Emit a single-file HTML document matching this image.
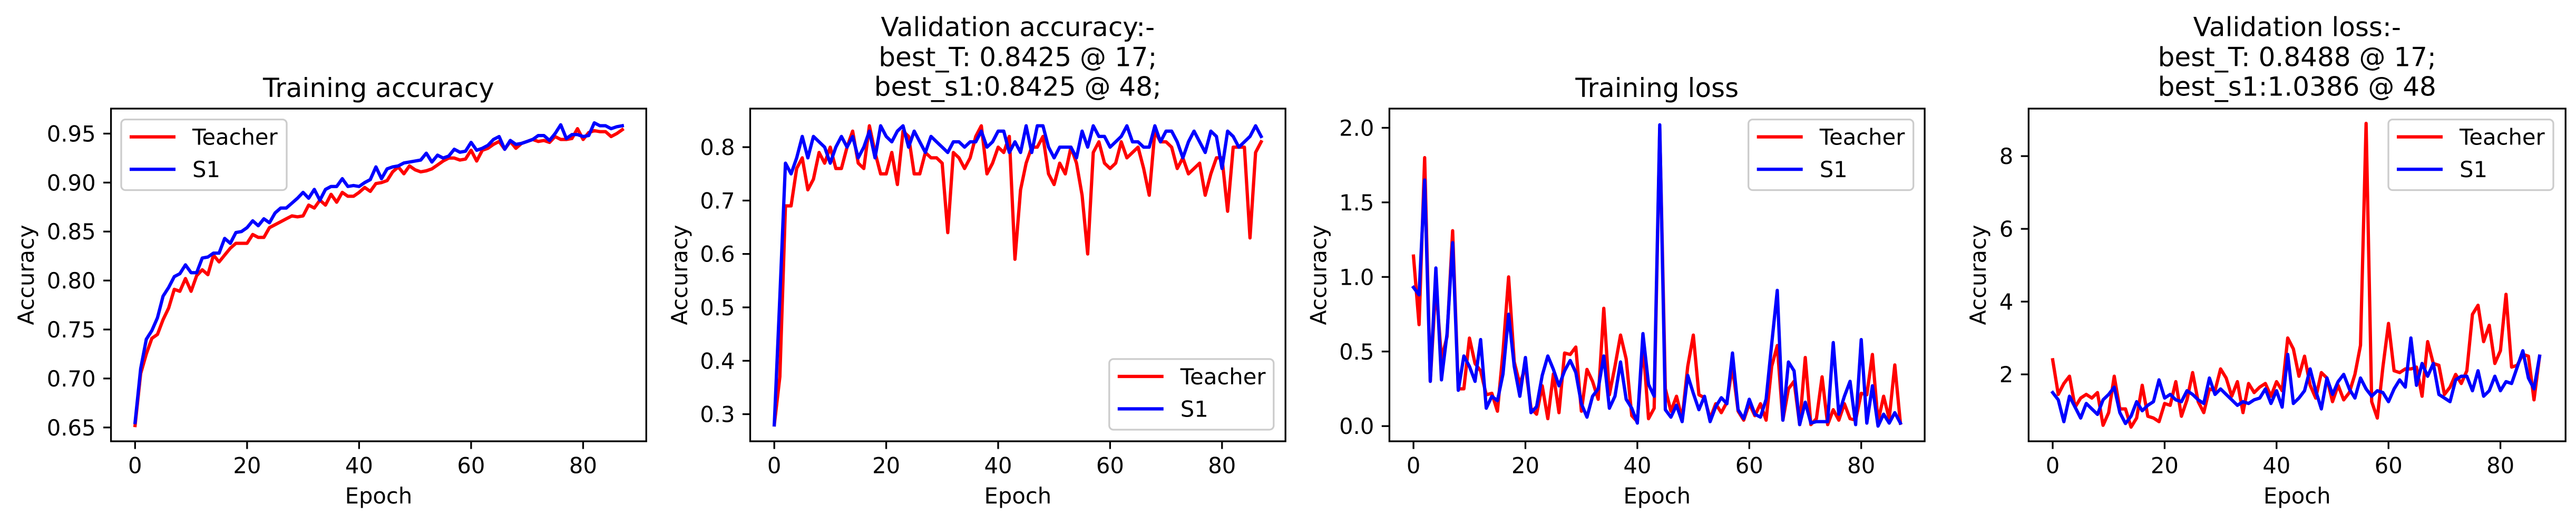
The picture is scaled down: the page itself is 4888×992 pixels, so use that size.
<!DOCTYPE html>
<html><head><meta charset="utf-8">
<style>
html,body{margin:0;padding:0;background:#fff;}
svg{display:block;font-family:"DejaVu Sans","Liberation Sans",sans-serif;}
</style></head>
<body>
<svg id="fig" width="4888" height="992" viewBox="0 0 4888 992" xmlns="http://www.w3.org/2000/svg"></svg>
<script>
const epochs = Array.from({length: 88}, (_, i) => i);
const xTicks = [0, 20, 40, 60, 80];

const trainAccTeacher = [0.652,0.705,0.725,0.741,0.745,0.760,0.772,0.791,0.789,0.802,0.789,0.805,0.811,0.806,0.826,0.819,0.826,0.833,0.838,0.838,0.838,0.847,0.844,0.844,0.854,0.857,0.860,0.863,0.866,0.865,0.866,0.877,0.874,0.882,0.877,0.888,0.880,0.890,0.886,0.886,0.890,0.895,0.891,0.899,0.900,0.902,0.911,0.916,0.909,0.917,0.913,0.911,0.912,0.914,0.918,0.922,0.925,0.925,0.923,0.924,0.933,0.922,0.933,0.935,0.939,0.942,0.934,0.942,0.935,0.940,0.942,0.944,0.942,0.943,0.941,0.947,0.944,0.944,0.945,0.955,0.944,0.951,0.953,0.952,0.952,0.947,0.950,0.954];
const trainAccS1 = [0.655,0.710,0.740,0.749,0.762,0.784,0.793,0.804,0.807,0.816,0.808,0.808,0.823,0.824,0.828,0.828,0.843,0.838,0.849,0.850,0.854,0.861,0.856,0.863,0.859,0.869,0.874,0.874,0.879,0.884,0.890,0.884,0.893,0.882,0.893,0.896,0.896,0.904,0.896,0.897,0.896,0.900,0.903,0.916,0.904,0.914,0.916,0.917,0.920,0.921,0.922,0.923,0.930,0.921,0.928,0.925,0.927,0.934,0.931,0.932,0.941,0.933,0.935,0.938,0.944,0.947,0.934,0.943,0.939,0.940,0.942,0.944,0.948,0.948,0.943,0.950,0.959,0.945,0.949,0.949,0.947,0.948,0.961,0.958,0.958,0.955,0.957,0.958];
const trainAccTicks = [0.65,0.70,0.75,0.80,0.85,0.90,0.95];
const trainAccTickLabels = ["0.65","0.70","0.75","0.80","0.85","0.90","0.95"];

const valAccTeacher = [0.28,0.37,0.69,0.69,0.76,0.78,0.72,0.74,0.79,0.77,0.80,0.76,0.76,0.80,0.83,0.77,0.76,0.84,0.79,0.75,0.75,0.79,0.73,0.83,0.82,0.75,0.75,0.79,0.78,0.78,0.77,0.64,0.79,0.78,0.76,0.78,0.82,0.84,0.75,0.77,0.80,0.79,0.82,0.59,0.72,0.77,0.80,0.80,0.82,0.75,0.73,0.77,0.75,0.80,0.77,0.71,0.60,0.79,0.81,0.77,0.76,0.77,0.81,0.78,0.79,0.80,0.76,0.71,0.83,0.81,0.81,0.80,0.76,0.78,0.75,0.76,0.77,0.71,0.75,0.78,0.78,0.68,0.80,0.80,0.80,0.63,0.79,0.81];
const valAccS1 = [0.28,0.52,0.77,0.75,0.78,0.82,0.78,0.82,0.81,0.80,0.77,0.80,0.82,0.80,0.82,0.78,0.80,0.83,0.78,0.84,0.82,0.81,0.83,0.84,0.80,0.83,0.81,0.79,0.82,0.81,0.80,0.79,0.81,0.81,0.80,0.81,0.81,0.83,0.80,0.81,0.83,0.83,0.79,0.81,0.79,0.84,0.79,0.84,0.84,0.80,0.78,0.80,0.80,0.80,0.78,0.83,0.80,0.84,0.82,0.82,0.80,0.81,0.82,0.84,0.81,0.81,0.80,0.80,0.84,0.81,0.83,0.83,0.81,0.78,0.81,0.83,0.81,0.79,0.83,0.82,0.76,0.83,0.82,0.80,0.81,0.82,0.84,0.82];
const valAccTicks = [0.3,0.4,0.5,0.6,0.7,0.8];
const valAccTickLabels = ["0.3","0.4","0.5","0.6","0.7","0.8"];

const trainLossTeacher = [1.14,0.68,1.80,0.30,0.95,0.45,0.60,1.31,0.25,0.25,0.59,0.42,0.37,0.21,0.22,0.10,0.50,1.00,0.43,0.28,0.40,0.12,0.08,0.27,0.05,0.35,0.09,0.49,0.48,0.53,0.10,0.38,0.30,0.18,0.79,0.21,0.40,0.61,0.45,0.07,0.03,0.55,0.05,0.12,2.00,0.25,0.10,0.20,0.05,0.40,0.61,0.21,0.19,0.05,0.15,0.09,0.16,0.40,0.10,0.04,0.15,0.07,0.15,0.04,0.40,0.54,0.04,0.25,0.30,0.01,0.46,0.01,0.05,0.33,0.01,0.11,0.04,0.15,0.05,0.04,0.22,0.21,0.48,0.03,0.20,0.05,0.41,0.02];
const trainLossS1 = [0.93,0.88,1.65,0.30,1.06,0.31,0.62,1.23,0.24,0.47,0.40,0.30,0.58,0.12,0.20,0.17,0.35,0.75,0.40,0.20,0.46,0.09,0.13,0.34,0.47,0.38,0.27,0.37,0.44,0.36,0.15,0.06,0.20,0.25,0.47,0.12,0.20,0.43,0.18,0.12,0.02,0.62,0.28,0.20,2.02,0.11,0.06,0.14,0.03,0.34,0.22,0.11,0.20,0.03,0.13,0.19,0.15,0.49,0.11,0.05,0.18,0.08,0.06,0.18,0.55,0.91,0.04,0.43,0.37,0.01,0.16,0.02,0.03,0.03,0.03,0.56,0.08,0.20,0.30,0.01,0.58,0.02,0.27,0.00,0.08,0.02,0.09,0.02];
const trainLossTicks = [0.0,0.5,1.0,1.5,2.0];
const trainLossTickLabels = ["0.0","0.5","1.0","1.5","2.0"];

const valLossTeacher = [2.4,1.45,1.75,1.95,1.1,1.35,1.45,1.35,1.5,0.6,0.95,1.95,1.05,1.05,0.55,0.8,1.7,0.85,0.8,0.7,1.2,1.15,1.8,0.85,1.3,2.05,1.25,0.95,1.6,1.55,2.15,1.9,1.4,1.8,0.95,1.75,1.5,1.65,1.75,1.4,1.8,1.55,3.0,2.7,1.95,2.5,1.7,1.35,2.05,1.9,1.25,1.7,1.3,1.5,2.0,2.8,8.9,1.25,0.8,2.2,3.4,2.1,2.05,2.15,2.15,2.2,1.4,2.9,2.3,2.25,1.45,1.65,2.0,1.75,2.1,3.65,3.9,2.9,3.35,2.3,2.65,4.2,2.2,2.25,2.55,2.5,1.3,2.5];
const valLossS1 = [1.5,1.3,0.7,1.4,1.1,0.8,1.2,1.05,0.9,1.3,1.45,1.65,0.95,0.65,0.85,1.25,1.0,1.15,1.25,1.85,1.35,1.45,1.3,1.25,1.55,1.45,1.3,1.2,1.9,1.45,1.6,1.45,1.3,1.15,1.25,1.2,1.3,1.35,1.6,1.2,1.55,1.1,2.55,1.2,1.35,1.55,2.15,1.55,1.05,1.9,1.45,1.8,2.0,1.6,1.35,1.9,1.6,1.4,1.55,1.5,1.25,1.6,1.85,1.65,3.0,1.7,2.3,1.95,2.3,1.45,1.35,1.25,1.85,1.95,1.95,1.55,2.1,1.4,1.55,1.95,1.55,1.8,1.75,2.2,2.65,1.9,1.6,2.5];
const valLossTicks = [2,4,6,8];
const valLossTickLabels = ["2","4","6","8"];

const NS = "http://www.w3.org/2000/svg";
const svg = document.getElementById('fig');
function el(tag, attrs, parent) {
  const e = document.createElementNS(NS, tag);
  for (const k in attrs) e.setAttribute(k, attrs[k]);
  (parent || svg).appendChild(e);
  return e;
}
const FS = 41.7, TFS = 50;

function panel(cfg) {
  const g = el('g', {});
  
  
  const {L, R, T, B, x0px, pxPerEpoch, yRefVal, yRefPx, pxPerUnit} = cfg;
  const xs = e => x0px + e * pxPerEpoch;
  const ys = v => yRefPx - (v - yRefVal) * pxPerUnit;
  const cx = (L + R) / 2;
  // title
  cfg.title.forEach((line, i) => {
    const t = el('text', {x: cx, y: cfg.titleY[i], 'font-size': TFS, 'text-anchor': 'middle', fill: '#000'}, g);
    t.textContent = line;
    
    
  });
  // clip
  const cid = 'clip-' + cfg.name;
  const cp = el('clipPath', {id: cid}, g);
  el('rect', {x: L, y: T, width: R - L, height: B - T}, cp);
  const series = [[cfg.teacher, '#ff0000', 'teacher-line'], [cfg.s1, '#0000ff', 's1-line']];
  series.forEach(([arr, col, nm]) => {
    const d = arr.map((v, i) => (i ? 'L' : 'M') + xs(epochs[i]).toFixed(1) + ' ' + ys(v).toFixed(1)).join(' ');
    const p = el('path', {d, fill: 'none', stroke: col, 'stroke-width': 6.25, 'stroke-linejoin': 'round', 'stroke-linecap': 'square', 'clip-path': 'url(#' + cid + ')'}, g);
    
    
  });
  // frame
  const fr = el('rect', {x: L, y: T, width: R - L, height: B - T, fill: 'none', stroke: '#000', 'stroke-width': 3.3}, g);
  
  
  // x ticks
  xTicks.forEach(v => {
    const x = xs(v);
    el('line', {x1: x, y1: B, x2: x, y2: B + 14.6, stroke: '#000', 'stroke-width': 3.3}, g);
    const t = el('text', {x, y: B + 29 + FS * 0.76, 'font-size': FS, 'text-anchor': 'middle'}, g);
    t.textContent = v;
    
    
  });
  cfg.yTicks.forEach((v, i) => {
    const y = ys(v);
    el('line', {x1: L - 14.6, y1: y, x2: L, y2: y, stroke: '#000', 'stroke-width': 3.3}, g);
    const t = el('text', {x: L - 29, y: y + FS * 0.36, 'font-size': FS, 'text-anchor': 'end'}, g);
    t.textContent = cfg.yTickLabels[i];
    
    
  });
  const xl = el('text', {x: cx, y: 955, 'font-size': FS, 'text-anchor': 'middle'}, g);
  xl.textContent = 'Epoch';
  
  
  const ymid = (T + B) / 2;
  const yl = el('text', {x: 0, y: 0, 'font-size': FS, 'text-anchor': 'middle', transform: `translate(${cfg.ylabelX + 15},${ymid}) rotate(-90)`}, g);
  yl.textContent = 'Accuracy';
  
  
  // legend
  const lg = el('g', {}, g);
  
  
  const [lx, ly, lw, lh] = cfg.legend;
  el('rect', {x: lx, y: ly, width: lw, height: lh, rx: 8, fill: '#fff', 'fill-opacity': 0.8, stroke: '#cccccc', 'stroke-width': 3.3}, lg);
  [['Teacher', '#ff0000', 'legend-entry-teacher'], ['S1', '#0000ff', 'legend-entry-s1']].forEach(([lab, col, nm], i) => {
    const ry = ly + 33 + i * 61.5;
    const eg = el('g', {}, lg);
    
    
    el('line', {x1: lx + 16, y1: ry, x2: lx + 103, y2: ry, stroke: col, 'stroke-width': 6.25}, eg);
    const t = el('text', {x: lx + 135, y: ry + FS * 0.36, 'font-size': FS}, eg);
    t.textContent = lab;
  });
}

panel({name: 'training-accuracy-chart', L: 210.6, R: 1226.3, T: 206, B: 837,
  x0px: 256.3, pxPerEpoch: 10.627, yRefVal: 0.65, yRefPx: 810.8, pxPerUnit: 1858,
  title: ['Training accuracy'], titleY: [184],
  teacher: trainAccTeacher, s1: trainAccS1, yTicks: trainAccTicks, yTickLabels: trainAccTickLabels,
  ylabelX: 49, legend: [230, 226.6, 314, 134]});
panel({name: 'validation-accuracy-chart', L: 1423.5, R: 2439.2, T: 206, B: 837,
  x0px: 1469.2, pxPerEpoch: 10.62, yRefVal: 0.8, yRefPx: 279.1, pxPerUnit: 1013,
  title: ['Validation accuracy:-', 'best_T: 0.8425 @ 17;', 'best_s1:0.8425 @ 48;'], titleY: [68.6, 125.6, 181.3],
  teacher: valAccTeacher, s1: valAccS1, yTicks: valAccTicks, yTickLabels: valAccTickLabels,
  ylabelX: 1289, legend: [2104.8, 681, 312, 134]});
panel({name: 'training-loss-chart', L: 2636.4, R: 3652.1, T: 206, B: 837,
  x0px: 2682.1, pxPerEpoch: 10.62, yRefVal: 0, yRefPx: 808.2, pxPerUnit: 282.9,
  title: ['Training loss'], titleY: [184],
  teacher: trainLossTeacher, s1: trainLossS1, yTicks: trainLossTicks, yTickLabels: trainLossTickLabels,
  ylabelX: 2501.5, legend: [3317.7, 226.6, 313, 134]});
panel({name: 'validation-loss-chart', L: 3849.3, R: 4868.2, T: 206, B: 837,
  x0px: 3895, pxPerEpoch: 10.62, yRefVal: 2, yRefPx: 710.1, pxPerUnit: 69,
  title: ['Validation loss:-', 'best_T: 0.8488 @ 17;', 'best_s1:1.0386 @ 48'], titleY: [68.6, 125.6, 181.3],
  teacher: valLossTeacher, s1: valLossS1, yTicks: valLossTicks, yTickLabels: valLossTickLabels,
  ylabelX: 3753, legend: [4532, 226.6, 313, 134]});
</script>
</body></html>
